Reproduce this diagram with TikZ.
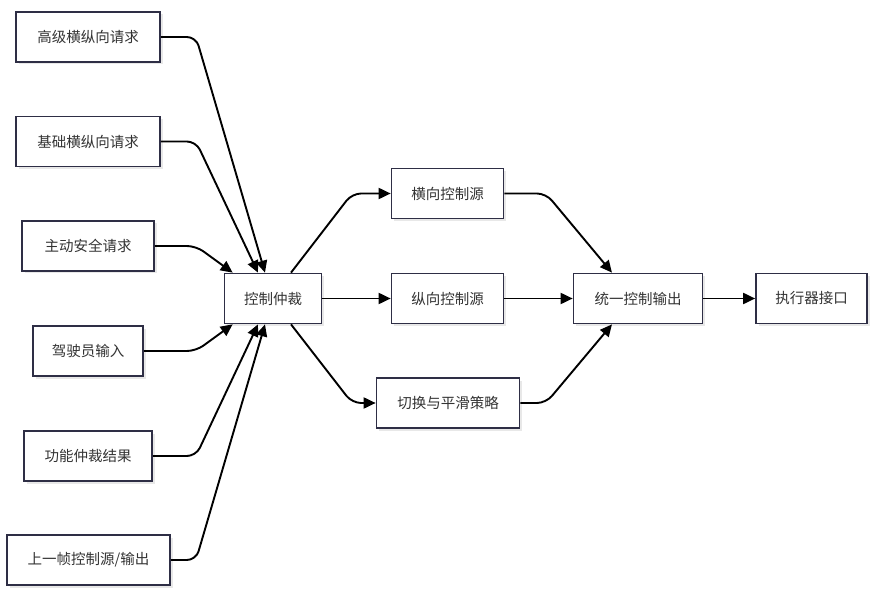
\documentclass[tikz,border=0pt]{standalone}
\usepackage{fontspec}
\setmainfont{Noto Sans CJK SC}
\usetikzlibrary{arrows.meta,calc,shadows}
\definecolor{boxline}{HTML}{2E2E45}
\definecolor{txt}{HTML}{333333}
\tikzset{
  box/.style={draw=boxline, line width=1.7pt, fill=white, text=txt,
    minimum height=50pt, inner sep=0pt, font=\fontsize{14.5pt}{16pt}\selectfont,
    drop shadow={shadow xshift=2.5pt, shadow yshift=-2.5pt, opacity=0.18, fill=gray}},
  conn/.style={line width=1.9pt, rounded corners=9pt,
    -{Triangle[length=12pt,width=11pt]}}
}
\begin{document}
\begin{tikzpicture}[x=1pt,y=-1pt]
\useasboundingbox (0,0) rectangle (877,593);
% left inputs
\node[box, minimum width=144pt] (h1) at (88,37) {高级横纵向请求};
\node[box, minimum width=144pt] (h2) at (88,141.5) {基础横纵向请求};
\node[box, minimum width=132pt] (h3) at (88,246) {主动安全请求};
\node[box, minimum width=110pt] (h4) at (88,351) {驾驶员输入};
\node[box, minimum width=128pt] (h5) at (88,456) {功能仲裁结果};
\node[box, minimum width=163pt] (h6) at (88.5,560) {上一帧控制源/输出};
% middle
\node[box, minimum width=97pt] (arb) at (273,298.5) {控制仲裁};
\node[box, minimum width=112pt] (lat) at (447.5,193.5) {横向控制源};
\node[box, minimum width=112pt] (lon) at (447.5,298.5) {纵向控制源};
\node[box, minimum width=143pt] (sw) at (448,403) {切换与平滑策略};
\node[box, minimum width=129pt] (uni) at (638,298.5) {统一控制输出};
\node[box, minimum width=111pt] (act) at (811.5,298.5) {执行器接口};
% bend reference x positions
\coordinate (bx) at (196,0);
\coordinate (bm) at (352,0);
\coordinate (br) at (546,0);
% inputs to arbitration
\draw[conn] (h1.east) -- (h1.east -| bx) -- ($(arb.north)+(-8,0)$);
\draw[conn] (h2.east) -- (h2.east -| bx) -- ($(arb.north)+(-15,0)$);
\draw[conn] (h3.east) -- (h3.east -| bx) -- ($(arb.north west)+(9,0)$);
\draw[conn] (h4.east) -- (h4.east -| bx) -- ($(arb.south west)+(9,0)$);
\draw[conn] (h5.east) -- (h5.east -| bx) -- ($(arb.south)+(-15,0)$);
\draw[conn] (h6.east) -- (h6.east -| bx) -- ($(arb.south)+(-8,0)$);
% arbitration to sources
\draw[conn] ($(arb.north)+(18,0)$) -- (lat.west -| bm) -- (lat.west);
\draw[conn] (arb.east) -- (lon.west);
\draw[conn] ($(arb.south)+(18,0)$) -- (sw.west -| bm) -- (sw.west);
% sources to unified output
\draw[conn] (lat.east) -- (lat.east -| br) -- ($(uni.north)+(-26,0)$);
\draw[conn] (lon.east) -- (uni.west);
\draw[conn] (sw.east) -- (sw.east -| br) -- ($(uni.south)+(-26,0)$);
\draw[conn] (uni.east) -- (act.west);
\end{tikzpicture}
\end{document}
